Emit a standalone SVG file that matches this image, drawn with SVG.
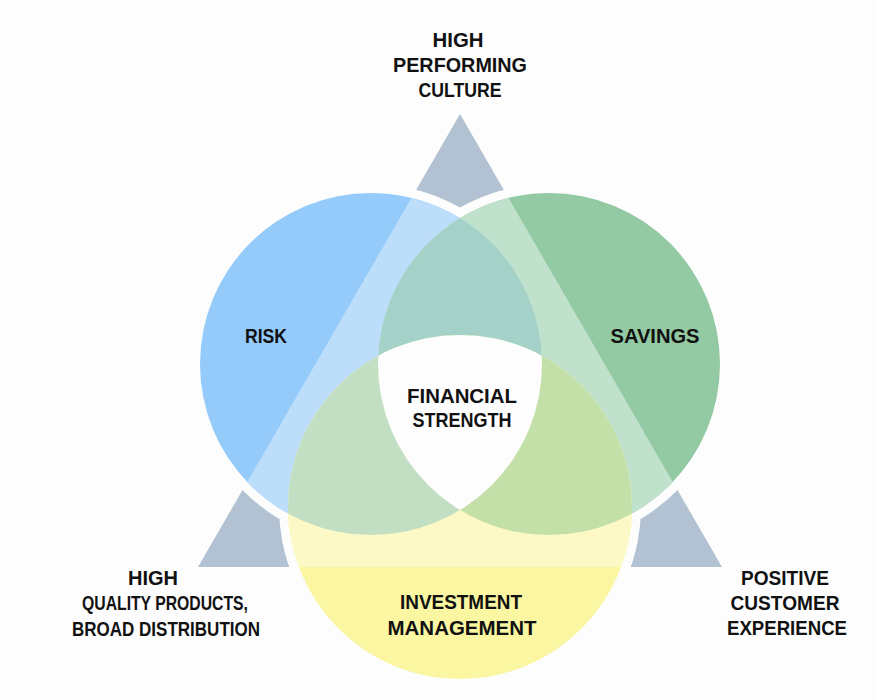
<svg xmlns="http://www.w3.org/2000/svg" width="875" height="700" viewBox="0 0 875 700">
  <style>
    .lbl { font-family: "Liberation Sans", Arial, sans-serif; font-weight: bold; font-size: 20px; fill: #111111; text-anchor: middle; }
    .gap { fill: #FDFDFD; }
  </style>
  <defs>
    <clipPath id="clipTri"><polygon points="460,114 198,567 722,567"/></clipPath>
    <clipPath id="clipBlue"><circle cx="371" cy="364" r="171"/></clipPath>
    <clipPath id="clipGreen"><circle cx="549" cy="364" r="171"/></clipPath>
  </defs>
  <rect x="0" y="0" width="875" height="700" fill="#FDFDFD"/>

  <g id="node-triangle">
    <polygon points="460,114 198,567 722,567" fill="#B2C2D2"/>
    <text class="lbl" x="458" y="47" textLength="51" lengthAdjust="spacingAndGlyphs">HIGH</text>
    <text class="lbl" x="460" y="72" textLength="134" lengthAdjust="spacingAndGlyphs">PERFORMING</text>
    <text class="lbl" x="460" y="97" textLength="83" lengthAdjust="spacingAndGlyphs">CULTURE</text>
    <text class="lbl" x="153" y="585" textLength="50" lengthAdjust="spacingAndGlyphs">HIGH</text>
    <text class="lbl" x="165" y="610" textLength="166" lengthAdjust="spacingAndGlyphs">QUALITY PRODUCTS,</text>
    <text class="lbl" x="166" y="636" textLength="188" lengthAdjust="spacingAndGlyphs">BROAD DISTRIBUTION</text>
    <text class="lbl" x="785" y="585" textLength="88" lengthAdjust="spacingAndGlyphs">POSITIVE</text>
    <text class="lbl" x="785" y="610" textLength="109" lengthAdjust="spacingAndGlyphs">CUSTOMER</text>
    <text class="lbl" x="787" y="635" textLength="120" lengthAdjust="spacingAndGlyphs">EXPERIENCE</text>
  </g>

  <g id="gaps">
    <circle class="gap" cx="371" cy="364" r="180"/>
    <circle class="gap" cx="549" cy="364" r="180"/>
    <circle class="gap" cx="460" cy="507" r="181"/>
  </g>

  <g id="node-risk">
    <circle cx="371" cy="364" r="171" fill="#94CBFA"/>
    <text class="lbl" x="266" y="343" textLength="42" lengthAdjust="spacingAndGlyphs">RISK</text>
  </g>
  <g id="node-savings">
    <circle cx="549" cy="364" r="171" fill="#93C9A3"/>
    <text class="lbl" x="655" y="343" textLength="89" lengthAdjust="spacingAndGlyphs">SAVINGS</text>
  </g>
  <g id="node-investment">
    <circle cx="460" cy="507" r="172" fill="#FAF6A2"/>
    <text class="lbl" x="461" y="609" textLength="122" lengthAdjust="spacingAndGlyphs">INVESTMENT</text>
    <text class="lbl" x="462" y="635" textLength="149" lengthAdjust="spacingAndGlyphs">MANAGEMENT</text>
  </g>

  <g id="overlaps">
    <g clip-path="url(#clipTri)">
      <circle cx="371" cy="364" r="171" fill="#BCDEFB"/>
      <circle cx="549" cy="364" r="171" fill="#C0E1CC"/>
      <circle cx="460" cy="507" r="172" fill="#FCF9C6"/>
    </g>
    <circle cx="549" cy="364" r="171" fill="#A4D1C8" clip-path="url(#clipBlue)"/>
    <circle cx="460" cy="507" r="172" fill="#C2DFC4" clip-path="url(#clipBlue)"/>
    <circle cx="460" cy="507" r="172" fill="#C4E0A9" clip-path="url(#clipGreen)"/>
    <g clip-path="url(#clipGreen)">
      <circle cx="460" cy="507" r="172" fill="#FDFDFD" clip-path="url(#clipBlue)"/>
    </g>
  </g>

  <g id="node-financial-strength">
    <text class="lbl" x="462" y="403" textLength="110" lengthAdjust="spacingAndGlyphs">FINANCIAL</text>
    <text class="lbl" x="462" y="427" textLength="99" lengthAdjust="spacingAndGlyphs">STRENGTH</text>
  </g>
</svg>
